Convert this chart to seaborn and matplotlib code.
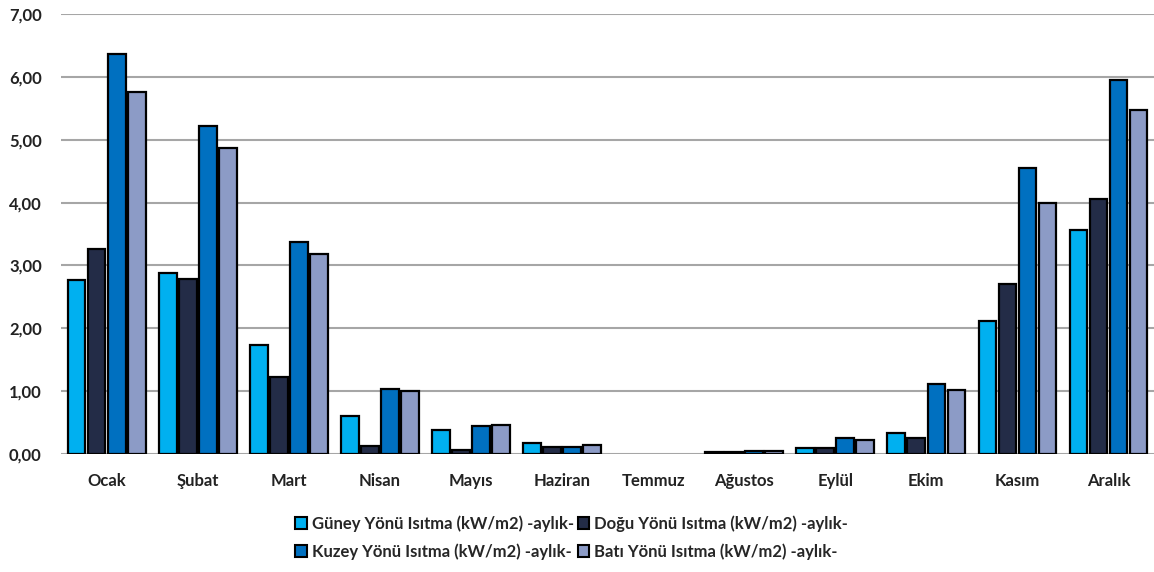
import matplotlib
matplotlib.use("Agg")
import matplotlib.pyplot as plt
import seaborn as sns
import pandas as pd
from matplotlib.patches import Patch

months = ["Ocak", "Şubat", "Mart", "Nisan", "Mayıs", "Haziran", "Temmuz",
          "Ağustos", "Eylül", "Ekim", "Kasım", "Aralık"]
series_names = [
    "Güney Yönü Isıtma (kW/m2) -aylık-",
    "Doğu Yönü Isıtma (kW/m2) -aylık-",
    "Kuzey Yönü Isıtma (kW/m2) -aylık-",
    "Batı Yönü Isıtma (kW/m2) -aylık-",
]
guney = [2.77, 2.88, 1.73, 0.60, 0.38, 0.17, 0.00, 0.03, 0.10, 0.34, 2.11, 3.56]
dogu = [3.26, 2.78, 1.22, 0.13, 0.06, 0.11, 0.00, 0.03, 0.10, 0.25, 2.70, 4.05]
kuzey = [6.36, 5.22, 3.37, 1.03, 0.45, 0.11, 0.00, 0.04, 0.25, 1.11, 4.55, 5.95]
bati = [5.76, 4.87, 3.18, 1.00, 0.46, 0.14, 0.00, 0.04, 0.22, 1.02, 4.00, 5.47]
colors = ["#00B0F0", "#232C47", "#0070C0", "#8C9BC6"]

rows = []
for name, vals in zip(series_names, [guney, dogu, kuzey, bati]):
    for m, v in zip(months, vals):
        rows.append({"Ay": m, "Seri": name, "Değer": v})
df = pd.DataFrame(rows)

sns.set_theme(style="white")
plt.rcParams["font.family"] = ["Lato", "DejaVu Sans"]

fig = plt.figure(figsize=(11.54, 5.72), dpi=100)
ax = fig.add_axes([0.053, 0.2063, 0.947, 0.7692])

sns.barplot(data=df, x="Ay", y="Değer", hue="Seri", order=months,
            hue_order=series_names, palette=colors, saturation=1,
            width=0.88, gap=0.12, edgecolor="black", linewidth=1.6,
            legend=False, ax=ax, zorder=3)

# zero-valued bars leave no outline
for p in ax.patches:
    if p.get_height() == 0:
        p.set_linewidth(0)

ax.set_ylim(0, 7)
ax.set_xlim(-0.5, len(months) - 0.5)
ax.set_yticks(range(0, 8))
ax.set_yticklabels([f"{v},00" for v in range(0, 8)], fontsize=12, fontweight="bold",
                   color="#222222")
ax.set_xticks(range(len(months)))
ax.set_xticklabels(months, fontsize=12, fontweight="bold", color="#222222")
ax.tick_params(axis="both", length=0)
ax.tick_params(axis="x", pad=14)
ax.tick_params(axis="y", pad=14)
ax.yaxis.grid(True, color="#A6A6A6", linewidth=1.5, zorder=0)
ax.set_axisbelow(True)
for s in ax.spines.values():
    s.set_visible(False)
ax.set_xlabel("")
ax.set_ylabel("")

handles = [Patch(facecolor=c, edgecolor="black", linewidth=1.5) for c in colors]
order = [0, 2, 1, 3]
fig.legend([handles[i] for i in order], [series_names[i] for i in order],
           ncol=2, loc="lower left", bbox_to_anchor=(0.243, -0.005),
           frameon=False, handlelength=0.7, handleheight=0.7,
           handletextpad=0.3, columnspacing=0.2, labelspacing=0.7,
           prop={"weight": "bold", "size": 12})

fig.savefig("out.png", dpi=100)
